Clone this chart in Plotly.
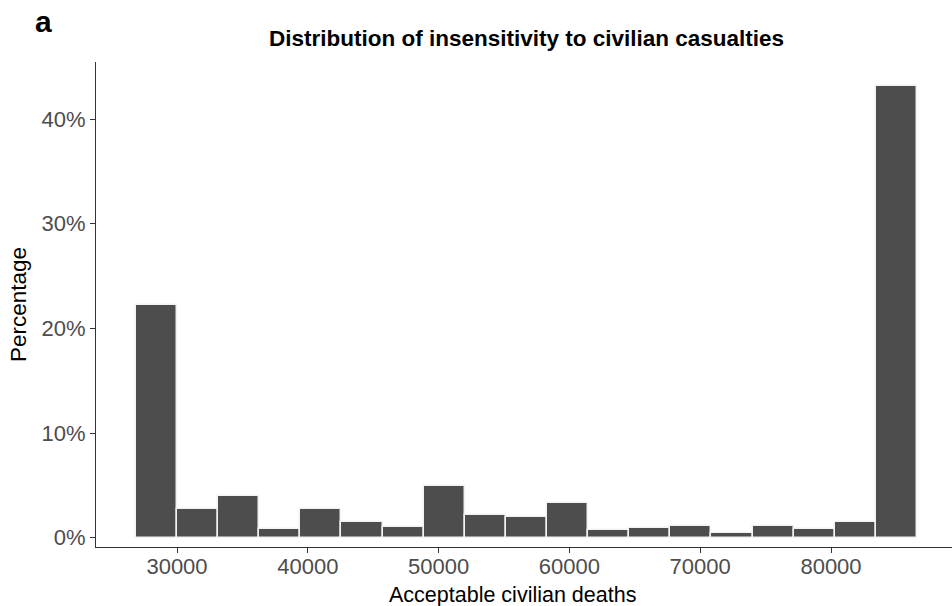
import plotly.graph_objects as go

# Histogram bins (centres of bins) and the percentage in each bin
bin_centers = [28430, 31573, 34716, 37859, 41002, 44145, 47288, 50431, 53574, 56717,
               59860, 63003, 66146, 69289, 72432, 75575, 78718, 81861, 85004]
percentages = [22.25, 2.71, 3.95, 0.83, 2.71, 1.47, 0.99, 4.94, 2.20, 1.95,
               3.34, 0.74, 0.96, 1.09, 0.45, 1.09, 0.83, 1.47, 43.14]
bin_width = 3143

x_ticks = [30000, 40000, 50000, 60000, 70000, 80000]
y_ticks = [0, 10, 20, 30, 40]

FONT = "Liberation Sans, Arial, Helvetica, sans-serif"

fig = go.Figure()
fig.add_trace(go.Bar(
    x=bin_centers,
    y=percentages,
    width=[bin_width] * len(bin_centers),
    marker=dict(color="#4D4D4D", line=dict(color="#F2F2F2", width=1.5)),
    hoverinfo="x+y",
))

fig.update_layout(
    width=952, height=606,
    margin=dict(l=96, r=0, t=62, b=59),
    paper_bgcolor="white", plot_bgcolor="white",
    showlegend=False,
    bargap=0,
    font=dict(family=FONT, color="#000000"),
    title=dict(
        text="<b>Distribution of insensitivity to civilian casualties</b>",
        font=dict(family=FONT, size=22.5, color="#000000"),
        x=(526.5 - 96) / 856, xref="paper", xanchor="center",
        y=1 - 38 / 606, yref="container", yanchor="middle",
    ),
    xaxis=dict(
        range=[23807, 89251],
        tickmode="array", tickvals=x_ticks, ticktext=[str(v) for v in x_ticks],
        ticks="outside", ticklen=5, tickwidth=1, tickcolor="#333333",
        ticklabelstandoff=-6,
        tickfont=dict(family=FONT, size=22, color="#4D4D4D"),
        showline=True, linecolor="#333333", linewidth=1.2,
        showgrid=False, zeroline=False,
    ),
    yaxis=dict(
        range=[-0.89, 45.45],
        tickmode="array", tickvals=y_ticks, ticktext=[f"{v}%" for v in y_ticks],
        ticks="outside", ticklen=5, tickwidth=1, tickcolor="#333333",
        tickfont=dict(family=FONT, size=22, color="#4D4D4D"),
        showline=True, linecolor="#333333", linewidth=1.2,
        showgrid=False, zeroline=False,
        title=dict(text="Percentage",
                   font=dict(family=FONT, size=22.5, color="#000000"),
                   standoff=8),
    ),
    annotations=[
        dict(
            text="<b>a</b>", xref="paper", yref="paper",
            x=(33 - 96) / 856, y=1 + (62 - 21) / 485,
            xanchor="left", yanchor="middle", showarrow=False,
            font=dict(family=FONT, size=30, color="#000000"),
        ),
        dict(
            text="Acceptable civilian deaths", xref="paper", yref="paper",
            x=(512.5 - 96) / 856, y=-(595 - 547) / 485,
            xanchor="center", yanchor="middle", showarrow=False,
            font=dict(family=FONT, size=21.5, color="#000000"),
        ),
    ],
)

fig.write_html("out.html")
